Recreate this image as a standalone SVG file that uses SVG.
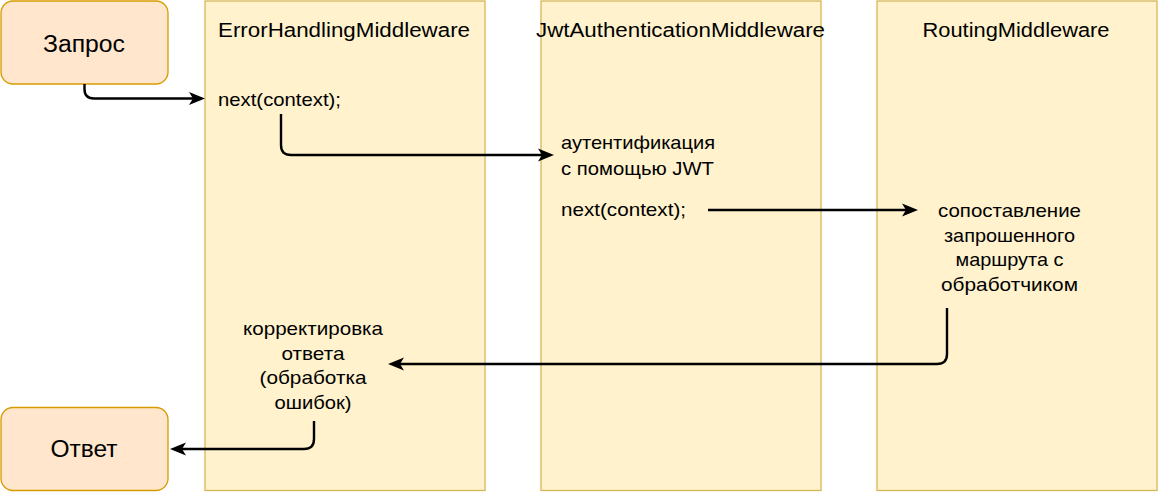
<svg xmlns="http://www.w3.org/2000/svg" width="1158" height="492" viewBox="0 0 1158 492">
<defs>
<style>
.col{fill:#fff2cc;stroke:#d6b656;stroke-width:1.3}
.io{fill:#ffe6cc;stroke:#d79b00;stroke-width:1.3}
text{font-family:"Liberation Sans",Arial,Helvetica,sans-serif;fill:#000}
.h{font-size:20px;text-anchor:middle}
.b{font-size:19px}
.c{font-size:19px;text-anchor:middle}
.big{font-size:23px;text-anchor:middle}
.con{fill:none;stroke:#000;stroke-width:2.4}
</style>
<marker id="arr" markerUnits="userSpaceOnUse" markerWidth="16" markerHeight="14" viewBox="0 0 16 14" refX="9" refY="7" orient="auto">
<path d="M0,0.5 L16,7 L0,13.5 L4,7 Z" fill="#000"/>
</marker>
</defs>
<rect width="1158" height="492" fill="#fff"/>
<g id="col-error">
<rect class="col" x="205" y="1" width="280" height="489.5"/>
<text class="h" x="344" y="36.5" textLength="252" lengthAdjust="spacingAndGlyphs">ErrorHandlingMiddleware</text>
<text class="b" x="218" y="106" textLength="123" lengthAdjust="spacingAndGlyphs">next(context);</text>
<text class="c" x="313" y="335" textLength="140" lengthAdjust="spacingAndGlyphs">корректировка</text>
<text class="c" x="313" y="360" textLength="63" lengthAdjust="spacingAndGlyphs">ответа</text>
<text class="c" x="313" y="384" textLength="107" lengthAdjust="spacingAndGlyphs">(обработка</text>
<text class="c" x="313" y="409" textLength="77" lengthAdjust="spacingAndGlyphs">ошибок)</text>
</g>
<g id="col-jwt">
<rect class="col" x="541" y="1" width="280" height="489.5"/>
<text class="h" x="680.5" y="36.5" textLength="289" lengthAdjust="spacingAndGlyphs">JwtAuthenticationMiddleware</text>
<text class="b" x="561" y="149" textLength="154" lengthAdjust="spacingAndGlyphs">аутентификация</text>
<text class="b" x="561" y="175" textLength="153" lengthAdjust="spacingAndGlyphs">с помощью JWT</text>
<text class="b" x="561" y="216" textLength="125" lengthAdjust="spacingAndGlyphs">next(context);</text>
</g>
<g id="col-routing">
<rect class="col" x="877" y="1" width="280" height="489.5"/>
<text class="h" x="1016" y="36.5" textLength="187" lengthAdjust="spacingAndGlyphs">RoutingMiddleware</text>
<text class="c" x="1009.5" y="217" textLength="143" lengthAdjust="spacingAndGlyphs">сопоставление</text>
<text class="c" x="1009.5" y="242" textLength="131" lengthAdjust="spacingAndGlyphs">запрошенного</text>
<text class="c" x="1009.5" y="266" textLength="108" lengthAdjust="spacingAndGlyphs">маршрута с</text>
<text class="c" x="1009.5" y="291" textLength="137" lengthAdjust="spacingAndGlyphs">обработчиком</text>
</g>
<g id="request">
<rect class="io" x="1" y="1" width="167" height="83" rx="12" ry="12"/>
<text class="big" x="84" y="52" textLength="82" lengthAdjust="spacingAndGlyphs">Запрос</text>
</g>
<g id="response">
<rect class="io" x="1" y="407.5" width="167" height="83" rx="12" ry="12"/>
<text class="big" x="84" y="457" textLength="67" lengthAdjust="spacingAndGlyphs">Ответ</text>
</g>
<g id="connectors">
<path class="con" marker-end="url(#arr)" d="M84.5,84 V89 Q84.5,98.5 94,98.5 H198"/>
<path class="con" marker-end="url(#arr)" d="M281,114 V145 Q281,155 291,155 H547"/>
<path class="con" marker-end="url(#arr)" d="M708,210 H911"/>
<path class="con" marker-end="url(#arr)" d="M947,308 V354 Q947,364 937,364 H395"/>
<path class="con" marker-end="url(#arr)" d="M314,421 V439 Q314,449 304,449 H177"/>
</g>
</svg>
